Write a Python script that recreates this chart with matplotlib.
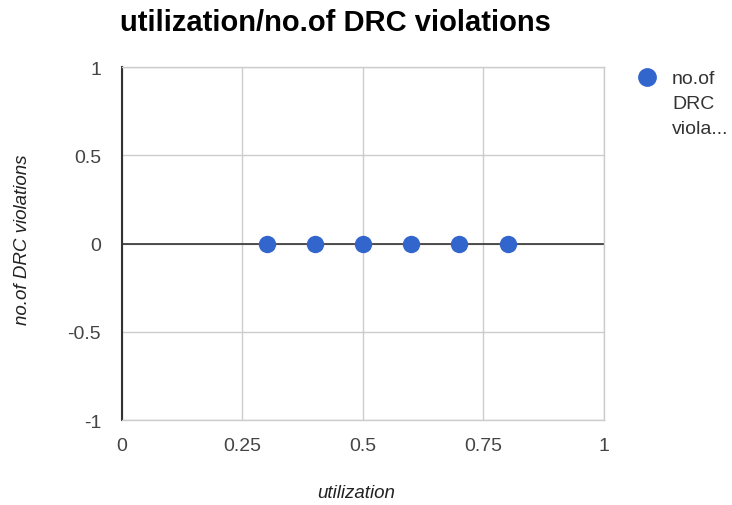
import matplotlib
matplotlib.use("Agg")
import matplotlib.pyplot as plt

plt.rcParams["font.family"] = ["Liberation Sans", "DejaVu Sans"]

utilization = [0.3, 0.4, 0.5, 0.6, 0.7, 0.8]
drc_violations = [0, 0, 0, 0, 0, 0]
x_ticks = [0, 0.25, 0.5, 0.75, 1]
x_tick_labels = ["0", "0.25", "0.5", "0.75", "1"]
y_ticks = [-1, -0.5, 0, 0.5, 1]
y_tick_labels = ["-1", "-0.5", "0", "0.5", "1"]

fig = plt.figure(figsize=(7.32, 5.06), dpi=100)
ax = fig.add_axes([122 / 732, 85 / 506, 482 / 732, 353 / 506])

ax.set_xlim(0, 1)
ax.set_ylim(-1, 1)
ax.set_xticks(x_ticks, x_tick_labels)
ax.set_yticks(y_ticks, y_tick_labels)
ax.tick_params(axis="x", length=0, labelsize=14, labelcolor="#444444", pad=12)
ax.tick_params(axis="y", length=0, labelsize=14, labelcolor="#444444", pad=15)
ax.grid(True, color="#cccccc", linewidth=1)
for s in ax.spines.values():
    s.set_color("#cccccc")
    s.set_linewidth(1)
ax.spines["left"].set_color("#333333")
ax.spines["left"].set_linewidth(1.5)
ax.axhline(0, color="#333333", linewidth=1.2, zorder=2)

ax.plot(utilization, drc_violations, "o", color="#3366cc", markersize=11.5,
        zorder=3, label="no.of\nDRC\nviola...")

fig.text(120 / 732, 1 - 23 / 506, "utilization/no.of DRC violations",
         fontsize=21, fontweight="bold", va="center", ha="left", color="#000000")
fig.text(356 / 732, 1 - 494 / 506, "utilization", fontsize=13.5,
         style="italic", color="#222222", ha="center", va="center")
fig.text(23 / 732, 1 - 240 / 506, "no.of DRC violations", fontsize=13.5,
         style="italic", color="#222222", ha="center", va="center", rotation=90)

# legend
fig.lines.append(plt.Line2D([647 / 732], [1 - 78 / 506], marker="o", color="#3366cc",
                            markersize=12.5, linestyle="none", transform=fig.transFigure))
fig.text(672 / 732, 1 - 71 / 506, "no.of\nDRC\nviola...", fontsize=14,
         color="#333333", ha="left", va="top", linespacing=1.6,
         transform=fig.transFigure)

fig.savefig("out.png", dpi=100)
